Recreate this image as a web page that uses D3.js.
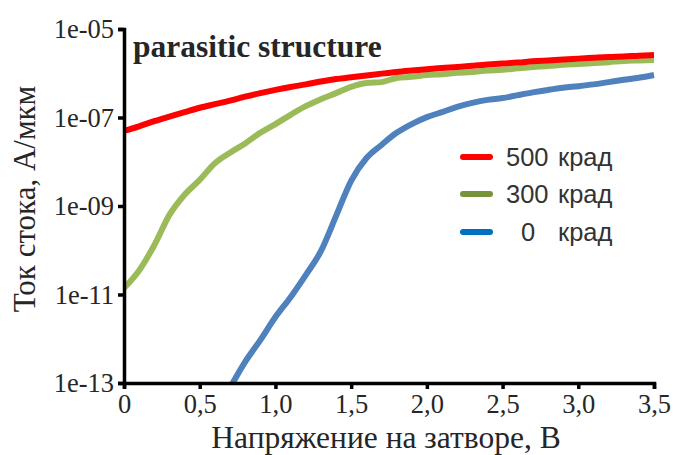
<!DOCTYPE html>
<html>
<head>
<meta charset="utf-8">
<script src="https://cdn.jsdelivr.net/npm/d3@7"></script>
<style>
  html, body { margin: 0; padding: 0; background: #fff; }
  svg { display: block; }
</style>
</head>
<body>
<svg id="chart" width="673" height="455"></svg>
<script>
// Gate voltage, V
const voltage = [0.0,0.1,0.2,0.3,0.4,0.5,0.6,0.7,0.8,0.9,1.0,1.1,1.2,1.3,1.4,1.5,1.6,1.7,
                 1.8,1.9,2.0,2.1,2.2,2.3,2.4,2.5,2.6,2.7,2.8,2.9,3.0,3.1,3.2,3.3,3.4,3.5];

// Drain current, A/um, after 500 krad
const current500 = [5.0e-8,6.3e-8,8.3e-8,1.05e-7,1.32e-7,1.66e-7,2.0e-7,2.4e-7,2.95e-7,3.55e-7,
                    4.2e-7,4.9e-7,5.6e-7,6.5e-7,7.4e-7,8.1e-7,8.9e-7,9.8e-7,1.07e-6,1.15e-6,
                    1.23e-6,1.32e-6,1.38e-6,1.48e-6,1.58e-6,1.66e-6,1.74e-6,1.86e-6,1.95e-6,2.04e-6,
                    2.14e-6,2.24e-6,2.34e-6,2.4e-6,2.5e-6,2.57e-6];

// Drain current after 300 krad
const current300 = [1.4e-11,3.5e-11,1.3e-10,6.3e-10,1.8e-9,3.9e-9,9.3e-9,1.6e-8,2.6e-8,4.5e-8,
                    7.1e-8,1.15e-7,1.8e-7,2.6e-7,3.55e-7,4.9e-7,6.0e-7,6.3e-7,7.8e-7,8.3e-7,
                    9.1e-7,9.5e-7,1.02e-6,1.07e-6,1.15e-6,1.2e-6,1.29e-6,1.38e-6,1.45e-6,1.55e-6,
                    1.62e-6,1.7e-6,1.78e-6,1.9e-6,1.95e-6,2.0e-6];

// Drain current before irradiation (starts at 0.7 V)
const voltage0 = [0.7,0.8,0.9,1.0,1.1,1.2,1.3,1.4,1.5,1.6,1.7,1.8,1.9,2.0,2.1,2.2,2.3,2.4,
                  2.5,2.6,2.7,2.8,2.9,3.0,3.1,3.2,3.3,3.4,3.5];
const current0 = [7.8e-14,3.0e-13,9.3e-13,3.1e-12,8.7e-12,2.75e-11,9.5e-11,5.9e-10,3.7e-9,1.2e-8,
                  2.4e-8,4.5e-8,7.1e-8,1.02e-7,1.32e-7,1.74e-7,2.14e-7,2.5e-7,2.75e-7,3.2e-7,
                  3.7e-7,4.2e-7,4.7e-7,5.1e-7,5.6e-7,6.3e-7,7.1e-7,7.9e-7,9.1e-7];

const xTicks = [0,0.5,1.0,1.5,2.0,2.5,3.0,3.5];
const xTickLabels = ["0","0,5","1,0","1,5","2,0","2,5","3,0","3,5"];
const yTicks = [1e-13,1e-11,1e-9,1e-7,1e-5];
const yTickLabels = ["1e-13","1e-11","1e-09","1e-07","1e-05"];

const seriesNames = ["500", "300", "0"];
const lineColors = ["#ff0000", "#9bbb59", "#4f81bd"];
const legendColors = ["#ff0000", "#77933c", "#0070c0"];

const chartTitle = "parasitic structure";
const xTitle = "Напряжение на затворе, В";
const yTitle = "Ток стока, А/мкм";
const unit = "крад";

const svg = d3.select("#chart");
const mLeft = 124, mRight = 654, mTop = 29, mBottom = 383;

const x = d3.scaleLinear().domain([0, 3.5]).range([mLeft, mRight]);
const y = d3.scaleLog().domain([1e-13, 1e-5]).range([mBottom, mTop]);

const serif = "'Liberation Serif', 'Times New Roman', serif";
const sans = "'Liberation Sans', Arial, sans-serif";
const textColor = "#262626";

svg.append("defs").append("clipPath").attr("id", "plot")
  .append("rect").attr("x", mLeft).attr("y", mTop - 10)
  .attr("width", mRight - mLeft + 10).attr("height", mBottom - mTop + 10);

const series = [
  { xs: voltage, ys: current500 },
  { xs: voltage, ys: current300 },
  { xs: voltage0, ys: current0 }
];

const line = d3.line()
  .x(d => x(d[0]))
  .y(d => y(d[1]))
  .curve(d3.curveMonotoneX);

const plot = svg.append("g").attr("clip-path", "url(#plot)");
// draw in reverse so red sits on top
[2, 1, 0].forEach(i => {
  const pts = series[i].xs.map((v, k) => [v, series[i].ys[k]]);
  plot.append("path")
    .attr("d", line(pts))
    .attr("fill", "none")
    .attr("stroke", lineColors[i])
    .attr("stroke-width", 6)
    .attr("stroke-linejoin", "round");
});

// Axes
const xAxis = svg.append("g").attr("transform", `translate(0,${mBottom})`)
  .call(d3.axisBottom(x).tickValues(xTicks).tickSize(6)
    .tickFormat((d, i) => xTickLabels[i]));
const yAxis = svg.append("g").attr("transform", `translate(${mLeft},0)`)
  .call(d3.axisLeft(y).tickValues(yTicks).tickSize(6)
    .tickFormat((d, i) => yTickLabels[i]));

[xAxis, yAxis].forEach(a => {
  a.select(".domain").attr("stroke", "#000").attr("stroke-width", 3.5);
  a.selectAll(".tick line").attr("stroke", "#000").attr("stroke-width", 3.5);
  a.selectAll(".tick text").attr("fill", textColor)
    .style("font-family", serif).style("font-size", "26.5px");
});
xAxis.selectAll(".tick text").attr("y", 11);
yAxis.selectAll(".tick text").attr("x", -10).attr("dy", "0.33em");

// Titles
svg.append("text")
  .attr("x", 386).attr("y", 448)
  .attr("text-anchor", "middle")
  .attr("fill", textColor)
  .style("font-family", serif).style("font-size", "31.5px")
  .text(xTitle);

svg.append("text")
  .attr("transform", `translate(35,199) rotate(-90)`)
  .attr("text-anchor", "middle")
  .attr("fill", textColor)
  .style("font-family", serif).style("font-size", "31px")
  .text(yTitle);

svg.append("text")
  .attr("x", 133).attr("y", 57)
  .attr("fill", textColor)
  .style("font-family", serif).style("font-size", "31.5px").style("font-weight", "bold")
  .text(chartTitle);

// Legend
const legendY = [157, 194, 232];
const legend = svg.append("g");
seriesNames.forEach((name, i) => {
  legend.append("line")
    .attr("x1", 463).attr("x2", 490)
    .attr("y1", legendY[i]).attr("y2", legendY[i])
    .attr("stroke", legendColors[i]).attr("stroke-width", 6)
    .attr("stroke-linecap", "round");
  legend.append("text")
    .attr("x", name === "0" ? 521 : 506).attr("y", legendY[i] + 9)
    .attr("fill", "#333")
    .style("font-family", sans).style("font-size", "25.5px")
    .text(name);
  legend.append("text")
    .attr("x", 558).attr("y", legendY[i] + 9)
    .attr("fill", "#333")
    .style("font-family", sans).style("font-size", "25.5px")
    .text(unit);
});
</script>
</body>
</html>
